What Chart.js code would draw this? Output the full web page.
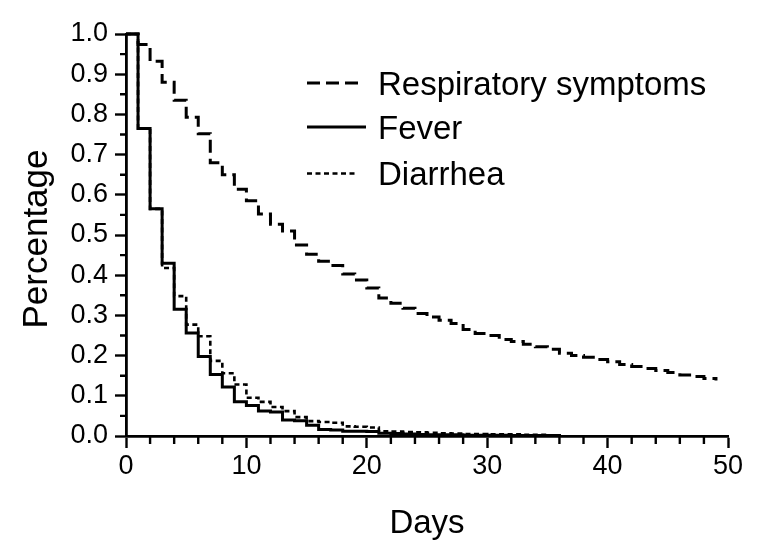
<!DOCTYPE html>
<html><head><meta charset="utf-8">
<script src="https://cdn.jsdelivr.net/npm/chart.js@4/dist/chart.umd.min.js"></script>
<style>html,body{margin:0;padding:0;background:#fff}#wrap{width:765px;height:546px}</style>
</head><body><div id="wrap"><canvas id="c" width="765" height="546"></canvas></div>
<script>
// ---- data ----
const days = [0,1,2,3,4,5,6,7,8,9,10,11,12,13,14,15,16,17,18,19,20,21,22,23,24,25,26,27,28,29,30,31,32,33,34,35,36,37,38,39,40,41,42,43,44,45,46,47,48,49];
const respiratory = [1.0,0.974,0.932,0.88,0.835,0.793,0.752,0.68,0.65,0.614,0.585,0.552,0.527,0.51,0.475,0.452,0.435,0.424,0.403,0.388,0.368,0.343,0.33,0.318,0.305,0.296,0.288,0.28,0.265,0.255,0.25,0.24,0.235,0.228,0.222,0.216,0.206,0.2,0.196,0.19,0.185,0.178,0.173,0.168,0.163,0.158,0.152,0.148,0.143,0.138];
const fever = [1.0,0.765,0.565,0.43,0.315,0.256,0.198,0.153,0.122,0.085,0.076,0.062,0.06,0.04,0.038,0.027,0.016,0.015,0.012,0.012,0.011,0.007,0.006,0.005,0.004,0.003,0.003,0.003,0.002,0.002,0.002,0.002,0.001,0.001,0.001,0.001,0.0];
const diarrhea = [1.0,0.765,0.565,0.418,0.348,0.277,0.248,0.187,0.156,0.128,0.095,0.085,0.072,0.062,0.047,0.037,0.035,0.033,0.024,0.023,0.021,0.012,0.011,0.01,0.009,0.008,0.007,0.006,0.005,0.005,0.004,0.004,0.004,0.003,0.003,0.002,0.0];
const seriesNames = ['Respiratory symptoms','Fever','Diarrhea'];
const xTickValues = [0,10,20,30,40,50];
const yTickValues = [0.0,0.1,0.2,0.3,0.4,0.5,0.6,0.7,0.8,0.9,1.0];
const xMinorTicks = [2,4,6,8,12,14,16,18,22,24,26,28,32,34,36,38,42,44,46,48];
const yMinorTicks = [0.05,0.15,0.25,0.35,0.45,0.55,0.65,0.75,0.85,0.95];
const xTitle = 'Days';
const yTitle = 'Percentage';

const FONT = "'Liberation Sans', Arial, sans-serif";
const toPts = vals => vals.map((v,i)=>({x:days[i], y:v}));
const dashes = [[13,6],[],[5,3.5]];
const widths = [3,3,2.6];

const minorTicksPlugin = {
  id:'minorTicks',
  afterDraw(chart){
    const ctx = chart.ctx, xs = chart.scales.x, ys = chart.scales.y;
    ctx.save();
    ctx.strokeStyle = '#000'; ctx.lineWidth = 2.4; ctx.setLineDash([]);
    ctx.beginPath();
    xMinorTicks.forEach(v=>{const px = xs.getPixelForValue(v); ctx.moveTo(px, ys.bottom); ctx.lineTo(px, ys.bottom+8);});
    yMinorTicks.forEach(v=>{const py = ys.getPixelForValue(v); ctx.moveTo(xs.left, py); ctx.lineTo(xs.left-6, py);});
    ctx.stroke();
    // y axis title
    ctx.save();
    ctx.translate(37, 239); ctx.rotate(-Math.PI/2);
    ctx.font = '35px ' + FONT; ctx.fillStyle='#000'; ctx.textAlign='center'; ctx.textBaseline='middle';
    ctx.fillText(yTitle, 0, 0);
    ctx.restore();
    ctx.restore();
  }
};
const legendPlugin = {
  id:'customLegend',
  afterDatasetsDraw(chart){
    const ctx = chart.ctx;
    const lineY = [83,127,173.5], baseY=[94.5,139,184.5];
    const lineEnd = [358,366,358];
    ctx.save();
    ctx.font = '33px ' + FONT; ctx.fillStyle='#000'; ctx.textBaseline='alphabetic'; ctx.textAlign='left';
    seriesNames.forEach((n,i)=>{
      ctx.strokeStyle='#000'; ctx.lineWidth = widths[i]; ctx.setLineDash(dashes[i]);
      ctx.beginPath(); ctx.moveTo(307,lineY[i]); ctx.lineTo(lineEnd[i],lineY[i]); ctx.stroke();
      ctx.fillText(n, 378, baseY[i]);
    });
    ctx.restore();
  }
};

new Chart(document.getElementById('c'), {
  type:'line',
  data:{ datasets:[
    {label:seriesNames[0], data:toPts(respiratory), borderDash:dashes[0], borderWidth:widths[0], order:2},
    {label:seriesNames[1], data:toPts(fever), borderDash:dashes[1], borderWidth:widths[1], order:0},
    {label:seriesNames[2], data:toPts(diarrhea), borderDash:dashes[2], borderWidth:widths[2], order:1}
  ].map(d=>Object.assign(d,{borderColor:'#000', backgroundColor:'#000', pointRadius:0, stepped:true, fill:false, tension:0, clip:false, borderCapStyle:'butt', borderJoinStyle:'miter'}))},
  options:{
    responsive:false, animation:false, devicePixelRatio:1,
    layout:{padding:{top:34,right:37,left:0,bottom:0}},
    plugins:{legend:{display:false}, tooltip:{enabled:false}},
    scales:{
      x:{type:'linear', min:0, max:50,
        afterBuildTicks:s=>{s.ticks = xTickValues.map(v=>({value:v}));},
        afterFit:s=>{s.height = 110;},
        grid:{display:true, drawOnChartArea:false, drawTicks:true, tickLength:12, tickColor:'#000', tickWidth:2.4},
        border:{display:true, color:'#000', width:2.8},
        ticks:{color:'#000', font:{family:FONT, size:27}, padding:2, maxRotation:0, callback:v=>String(v)},
        title:{display:true, text:xTitle, color:'#000', font:{family:FONT, size:33}, padding:{top:0,bottom:2}}
      },
      y:{type:'linear', min:0, max:1,
        afterBuildTicks:s=>{s.ticks = yTickValues.map(v=>({value:v}));},
        afterFit:s=>{s.width = 126;},
        grid:{display:true, drawOnChartArea:false, drawTicks:true, tickLength:11, tickColor:'#000', tickWidth:2.4},
        border:{display:true, color:'#000', width:2.8},
        ticks:{color:'#000', font:{family:FONT, size:27}, padding:7, callback:v=>Number(v).toFixed(1)},
        title:{display:false}
      }
    }
  },
  plugins:[minorTicksPlugin, legendPlugin]
});
</script></body></html>
